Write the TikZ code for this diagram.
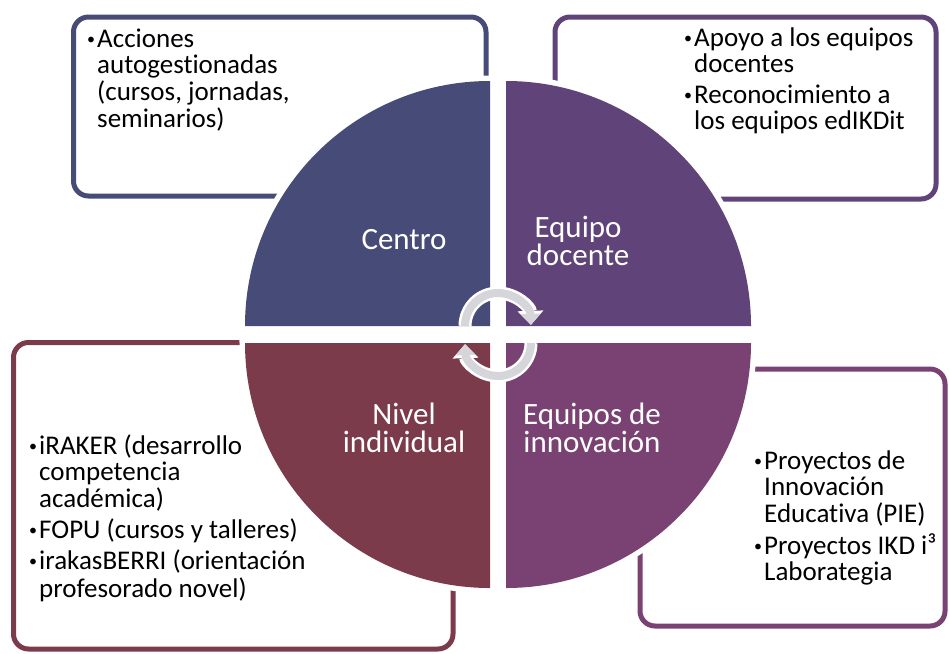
\documentclass[tikz,border=0pt]{standalone}
\usepackage{fontspec}
\setmainfont{Carlito}[Ligatures=NoCommon]
\usepackage{xcolor}
\usepackage{tikz}
\usetikzlibrary{arrows.meta}
\definecolor{centro}{HTML}{474B78}
\definecolor{docente}{HTML}{604379}
\definecolor{individual}{HTML}{7B3B4A}
\definecolor{innovacion}{HTML}{7A4173}
\definecolor{ciclo}{HTML}{D6D6DA}
\tikzstyle{caja} = [rounded corners=15pt, line width=5pt]
\tikzstyle{sector} = [preaction={draw=white, line width=11pt}]
\tikzstyle{etiqueta} = [text=white, align=center, inner sep=0pt, font=\fontsize{31}{28.5}\selectfont]
\tikzstyle{lista} = [anchor=base west, inner sep=0pt, font=\fontsize{27}{25}\selectfont]
\tikzstyle{giro} = [line width=8pt, draw=ciclo, -{Triangle[length=11pt,width=19pt]}, preaction={draw=white, line width=13pt, -{Triangle[length=14pt,width=25pt]}}]
\newcommand{\punto}{\makebox[11pt][l]{\hspace{1pt}\raisebox{3pt}{\fontsize{16}{16}\selectfont\textbullet}}}

\begin{document}
\begin{tikzpicture}[x=1pt, y=-1pt]
	\useasboundingbox (0,0) rectangle (949,653);

	% cajas
	\draw[caja, centro] (73.5,17) rectangle (486,196);
	\draw[caja, docente] (555,17) rectangle (936,199);
	\draw[caja, individual] (13.5,342.5) rectangle (453,649);
	\draw[caja, innovacion] (640,369) rectangle (945,626);

	% sectores
	\fill[centro, sector] (490,326) -- (245,326) arc[start angle=180, end angle=270, radius=245] -- cycle;
	\fill[docente, sector] (506,326) -- (751,326) arc[start angle=0, end angle=-90, radius=245] -- cycle;
	\fill[individual, sector] (490,343) -- (245,343) arc[start angle=180, end angle=90, radius=245] -- cycle;
	\fill[innovacion, sector] (506,343) -- (751,343) arc[start angle=0, end angle=90, radius=245] -- cycle;

	% ciclo
	\draw[giro] (465,326) arc[start angle=180, end angle=358, radius=33];
	\draw[giro] (531,343) arc[start angle=0, end angle=178, radius=33];

	\node[etiqueta] (centroT) at (404,240) {Centro};
	\node[etiqueta] (docenteT) at (578,241) {Equipo\\docente};
	\node[etiqueta] (individualT) at (404,428) {Nivel\\individual};
	\node[etiqueta] (innovacionT) at (592,428) {Equipos de\\innovación};

	\node[lista] (centroL) at (86,47) {\begin{tabular}[t]{@{}l@{}l@{}}
		\punto & Acciones\\
		& autogestionadas\\
		& (cursos, jornadas,\\
		& seminarios)
	\end{tabular}};
	\node[lista] (docenteL) at (683,46) {\begin{tabular}[t]{@{}l@{}l@{}}
		\punto & Apoyo a los equipos\\
		& docentes\\[5pt]
		\punto & Reconocimiento a\\
		& los equipos edIKDit
	\end{tabular}};
	\node[lista] (individualL) at (28,454) {\begin{tabular}[t]{@{}l@{}l@{}}
		\punto & iRAKER (desarrollo\\
		& competencia\\
		& académica)\\[4pt]
		\punto & FOPU (cursos y talleres)\\[4pt]
		\punto & irakasBERRI (orientación\\
		& profesorado novel)
	\end{tabular}};
	\node[lista] (innovacionL) at (753,469) {\begin{tabular}[t]{@{}l@{}l@{}}
		\punto & Proyectos de\\
		& Innovación\\
		& Educativa (PIE)\\[4pt]
		\punto & Proyectos IKD i³\\
		& Laborategia
	\end{tabular}};

\end{tikzpicture}
\end{document}
